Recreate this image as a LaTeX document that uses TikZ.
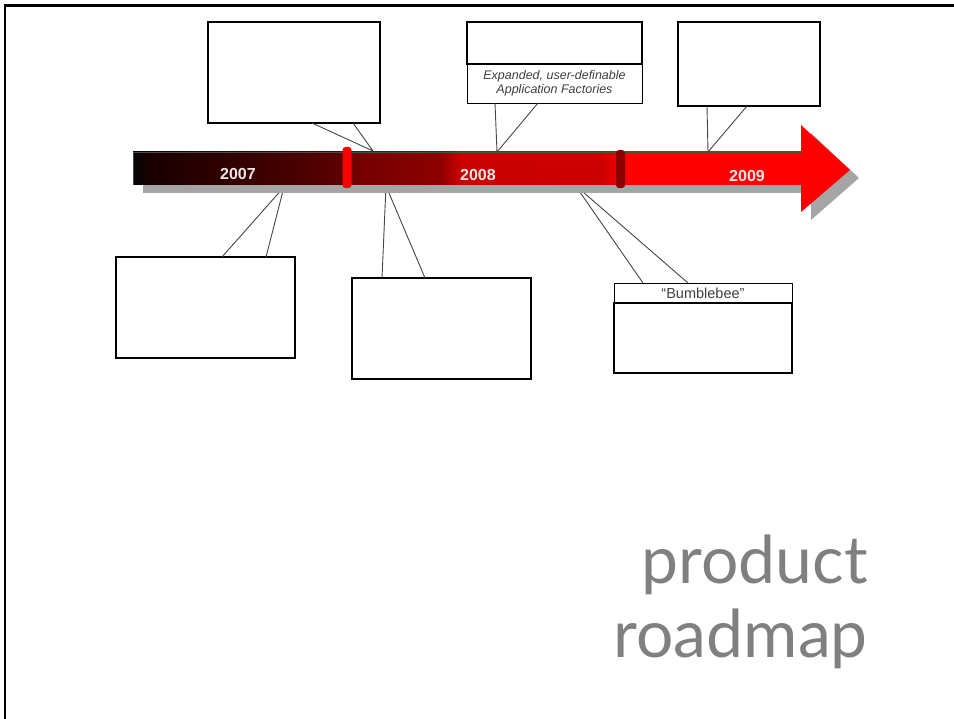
\documentclass[tikz,border=0pt]{standalone}
\usepackage{fontspec}
\newfontfamily\titlefont{Lato}
\newfontfamily\arialfont{Liberation Sans}
\pgfdeclarehorizontalshading{timebar}{100bp}{%
rgb(0bp)=(0.02,0.02,0.02);
rgb(25bp)=(0.02,0.02,0.02);
rgb(26.3bp)=(0.10,0,0);
rgb(33.7bp)=(0.22,0,0);
rgb(40.5bp)=(0.36,0,0);
rgb(41.2bp)=(0.45,0,0);
rgb(47.9bp)=(0.55,0,0);
rgb(49.4bp)=(0.78,0,0);
rgb(59.9bp)=(0.80,0,0);
rgb(62bp)=(1,0,0);
rgb(75bp)=(1,0,0);
rgb(100bp)=(1,0,0)}
\definecolor{titlegray}{RGB}{128,128,128}
\definecolor{shadowgray}{RGB}{165,165,165}
\definecolor{markred}{RGB}{255,0,0}
\definecolor{markdark}{RGB}{140,0,0}
\definecolor{yeartext}{RGB}{240,228,228}
\definecolor{leadgray}{RGB}{70,70,70}
\tikzset{
  box/.style={draw=black, line width=1.3pt, fill=white, outer sep=0pt, inner sep=0pt},
  thinbox/.style={draw=black, line width=0.9pt, fill=white, outer sep=0pt, inner sep=0pt},
  lead/.style={draw=leadgray, line width=0.9pt},
  year/.style={text=yeartext, font=\arialfont\bfseries\fontsize{16}{16}\selectfont, anchor=base},
  calltext/.style={text=black!75, font=\arialfont\fontsize{12.5}{14.5}\selectfont},
  title/.style={text=titlegray, font=\titlefont\fontsize{66}{66}\selectfont, anchor=base east, inner sep=0pt},
  frame/.style={draw=black, line width=2.6pt}
}
\begin{document}
\begin{tikzpicture}[x=1pt, y=-1pt]
\useasboundingbox (0,0) rectangle (954,719);
% frame
\coordinate (ftl) at (5,5.5);
\coordinate (ftr) at (954,5.5);
\coordinate (fbl) at (5,719);
\draw[frame] (ftr) -- (ftl) -- (fbl);
% pointer coordinates on the bar
\coordinate (p1) at (373,151);
\coordinate (p2) at (497,152);
\coordinate (p3) at (708,152);
\coordinate (p4) at (284,187);
\coordinate (p5) at (386,186);
\coordinate (p6) at (575,185);
% boxes
\node[box, minimum width=172pt, minimum height=101pt] (tl) at (294,72.5) {};
\node[thinbox, minimum width=175pt, minimum height=39pt, calltext, align=center] (tmc) at (554.5,83.5) {\itshape Expanded, user-definable\\\itshape Application Factories};
\node[box, minimum width=175pt, minimum height=42pt] (tm) at (554.5,43) {};
\node[box, minimum width=142pt, minimum height=84pt] (tr) at (749,64) {};
\node[box, minimum width=179pt, minimum height=101pt] (bl) at (205.5,307.5) {};
\node[box, minimum width=179pt, minimum height=101pt] (bm) at (441.5,328.5) {};
\node[thinbox, minimum width=178pt, minimum height=20pt, calltext, font=\arialfont\fontsize{14.5}{15}\selectfont] (bbc) at (703,293) {“Bumblebee”};
\node[box, minimum width=178pt, minimum height=70pt] (bb) at (703,338) {};
% leader lines
\draw[lead] ([xshift=104pt]tl.south west) -- (p1) -- ([xshift=145pt]tl.south west);
\draw[lead] ([xshift=28pt]tmc.south west) -- (p2) -- ([xshift=71pt]tmc.south west);
\draw[lead] ([xshift=29pt]tr.south west) -- (p3) -- ([xshift=69pt]tr.south west);
\draw[lead] ([xshift=106pt]bl.north west) -- (p4) -- ([xshift=150pt]bl.north west);
\draw[lead] ([xshift=30pt]bm.north west) -- (p5) -- ([xshift=73pt]bm.north west);
\draw[lead] ([xshift=29pt]bbc.north west) -- (p6) -- ([xshift=74pt]bbc.north west);
% arrow shadow
\fill[shadowgray] (143,160) -- (811,160) -- (811,133) -- (859,178) -- (811,220) -- (811,193) -- (143,193) -- cycle;
% arrow bar and head
\fill[markred] (801,152) -- (801,125) -- (850,170) -- (801,212) -- (801,185) -- cycle;
\shade[shading=timebar] (133,152) rectangle (802,185);
\draw[black!70, line width=0.6pt] (133,185) -- (133,152) -- (802,152);
% markers
\fill[markred, rounded corners=3pt] (342.5,147) rectangle (351.5,188);
\fill[markdark, rounded corners=3pt] (616,150) rectangle (625,188);
% years
\node[year] (y7) at (238,180) {2007};
\node[year] (y8) at (478,181) {2008};
\node[year] (y9) at (747,182) {2009};
% title
\node[title] (t1) at (868,583) {product};
\node[title] (t2) at (868,657) {roadmap};
\end{tikzpicture}
\end{document}
